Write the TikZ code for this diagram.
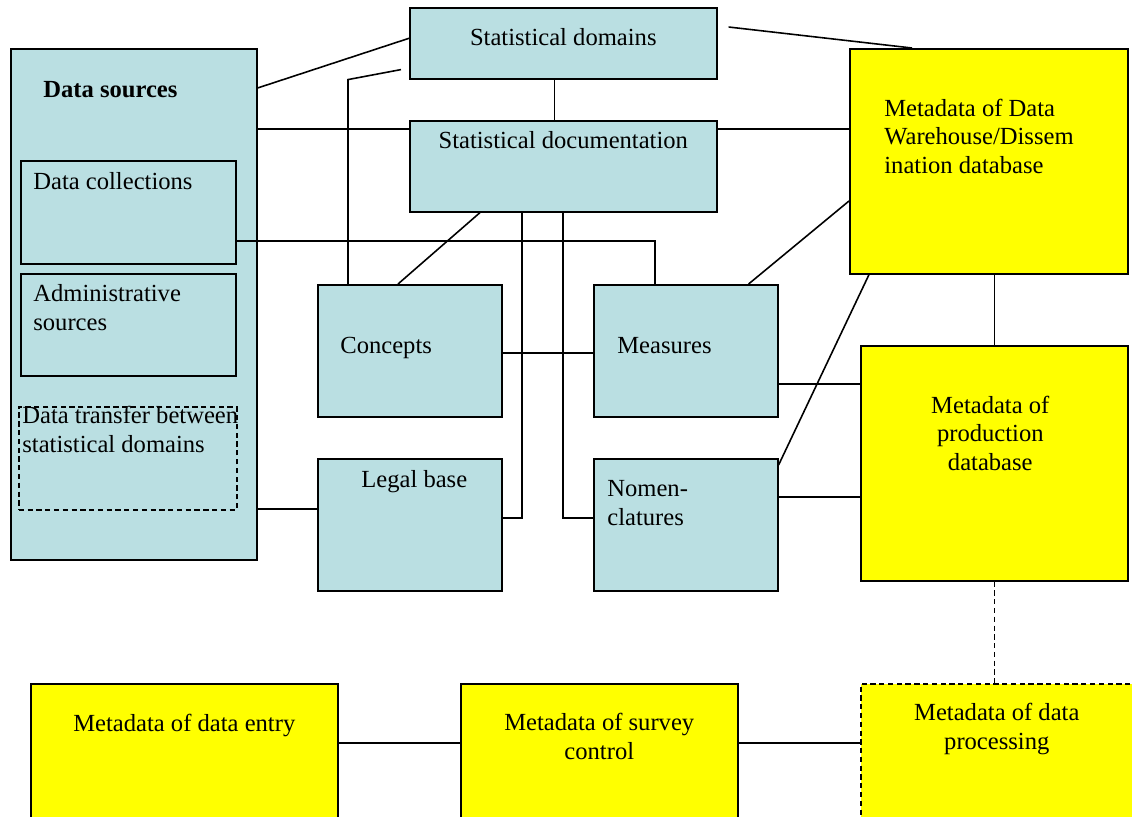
\documentclass[tikz,border=0pt]{standalone}
\usepackage{fontspec}
\setmainfont{Liberation Serif}
\usetikzlibrary{calc}

\definecolor{paleteal}{HTML}{BADFE2}
\definecolor{metayellow}{HTML}{FFFF00}
\newcommand{\pxu}{0.02cm}

\tikzset{
	dims/.style 2 args={minimum width=#1*\pxu, minimum height=#2*\pxu},
	blubox/.style={draw, fill=paleteal, line width=0.9pt, inner sep=0pt, anchor=north west},
	yelbox/.style={draw, fill=metayellow, line width=0.9pt, inner sep=0pt, anchor=north west},
	dashbox/.style={dash pattern=on 3pt off 2pt},
	lbl/.style={font=\fontsize{14}{16}\selectfont, inner sep=0pt},
	link/.style={line width=0.9pt}
}

\begin{document}
\begin{tikzpicture}[x=\pxu, y=-\pxu]
	\useasboundingbox (0,0) rectangle (1132,816);
	% data sources column
	\node[blubox, dims={246}{511}] (ds) at (10,48) {};
	\node[blubox, dims={215}{103}] (dc) at (20,160) {};
	\node[blubox, dims={215}{102}] (adm) at (20,273) {};
	\node[blubox, dashbox, dims={218}{103}] (dtr) at (18,406) {};
	% documentation boxes
	\node[blubox, dims={307}{71}] (dom) at (409,7) {};
	\node[blubox, dims={307}{91}] (doc) at (409,120) {};
	\node[blubox, dims={184}{132}] (con) at (317,284) {};
	\node[blubox, dims={184}{132}] (leg) at (317,458) {};
	\node[blubox, dims={184}{132}] (mea) at (593,284) {};
	\node[blubox, dims={184}{132}] (nom) at (593,458) {};
	% metadata boxes
	\node[yelbox, dims={278}{225}] (dw) at (849,48) {};
	\node[yelbox, dims={267}{235}] (prod) at (860,345) {};
	\node[yelbox, dims={307}{140}] (entry) at (30,683) {};
	\node[yelbox, dims={277}{140}] (surv) at (460,683) {};
	\node[yelbox, dashbox, dims={280}{140}] (proc) at (860,683) {};

	% labels (base = last line)
	\node[lbl, anchor=base west, font=\fontsize{14}{16}\selectfont\bfseries] at ([shift={(33,49)}]ds.north west) {Data sources};
	\node[lbl, anchor=base west] at ([shift={(13,29)}]dc.north west) {Data collections};
	\node[lbl, anchor=base west, align=left] at ([shift={(13,57)}]adm.north west) {Administrative\\sources};
	\node[lbl, anchor=base west, align=left] at ([shift={(4,46)}]dtr.north west) {Data transfer between\\statistical domains};
	\node[lbl, anchor=base] at ([shift={(0,38)}]dom.north) {Statistical domains};
	\node[lbl, anchor=base] at ([shift={(0,28)}]doc.north) {Statistical documentation};
	\node[lbl, anchor=base west] at ([shift={(23,69)}]con.north west) {Concepts};
	\node[lbl, anchor=base west] at ([shift={(44,29)}]leg.north west) {Legal base};
	\node[lbl, anchor=base west] at ([shift={(24,69)}]mea.north west) {Measures};
	\node[lbl, anchor=base west, align=left] at ([shift={(14,67)}]nom.north west) {Nomen-\\clatures};
	\node[lbl, anchor=base west, align=left] at ([shift={(35,125)}]dw.north west) {Metadata of Data\\Warehouse/Dissem\\ination database};
	\node[lbl, anchor=base, align=center] at ([shift={(-4,125)}]prod.north) {Metadata of\\production\\database};
	\node[lbl, anchor=base] at ([shift={(0,48)}]entry.north) {Metadata of data entry};
	\node[lbl, anchor=base, align=center] at ([shift={(0,76)}]surv.north) {Metadata of survey\\control};
	\node[lbl, anchor=base, align=center] at ([shift={(-4,66)}]proc.north) {Metadata of data\\processing};

	% connectors
	\draw[link] ([shift={(0,40)}]ds.north east) -- ([shift={(0,-5)}]dom.west);
	\draw[link] ([shift={(31,0)}]con.north west) -- ([shift={(31,0)}]con.north west |- dom.south) -- ([shift={(-8,-10)}]dom.south west);
	\draw[link] ([shift={(0,81)}]ds.north east) -- ([shift={(0,9)}]doc.north west);
	\draw[link] ([shift={(-9,0)}]dom.south) -- ([shift={(-9,0)}]doc.north);
	\draw[link] ([shift={(0,9)}]doc.north east) -- ([shift={(0,81)}]dw.north west);
	\draw[link] ([shift={(11,20)}]dom.north east) -- ([shift={(63,0)}]dw.north west);
	\draw[link] ([shift={(71,0)}]doc.south west) -- ([shift={(81,0)}]con.north west);
	\draw[link] ([shift={(113,0)}]doc.south west) |- ([shift={(0,60)}]leg.north east);
	\draw[link] ([shift={(154,0)}]doc.south west) |- ([shift={(0,60)}]nom.north west);
	\draw[link] ([shift={(0,81)}]dc.north east) -| ([shift={(62,0)}]mea.north west);
	\draw[link] ([shift={(0,69)}]con.north east) -- ([shift={(0,69)}]mea.north west);
	\draw[link] ([shift={(-30,0)}]mea.north east) -- ([shift={(0,153)}]dw.north west);
	\draw[link] ([shift={(0,7)}]nom.north east) -- ([shift={(20,0)}]dw.south west);
	\draw[link] ([shift={(0,100)}]mea.north east) -- ([shift={(0,39)}]prod.north west);
	\draw[link] ([shift={(0,39)}]nom.north east) -- ([shift={(0,152)}]prod.north west);
	\draw[link] (prod.north) -- (prod.north |- dw.south);
	\draw[link, dashbox] (prod.south) -- (prod.south |- proc.north);
	\draw[link] ([shift={(0,461)}]ds.north east) -- ([shift={(0,51)}]leg.north west);
	\draw[link] ([shift={(0,60)}]entry.north east) -- ([shift={(0,60)}]surv.north west);
	\draw[link] ([shift={(0,60)}]surv.north east) -- ([shift={(0,60)}]proc.north west);
\end{tikzpicture}
\end{document}
